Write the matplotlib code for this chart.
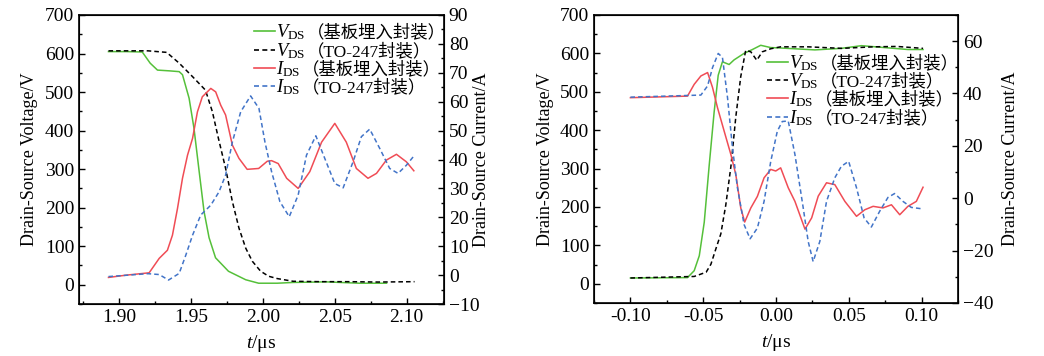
import matplotlib
matplotlib.use("Agg")
import matplotlib.pyplot as plt
from matplotlib.ticker import MultipleLocator
from matplotlib.offsetbox import AnchoredOffsetbox, HPacker, VPacker, TextArea, DrawingArea
from matplotlib.lines import Line2D

plt.rcParams['font.family'] = ['Liberation Serif', 'Noto Sans CJK SC']
plt.rcParams['mathtext.fontset'] = 'custom'
plt.rcParams['mathtext.rm'] = 'Liberation Serif'
plt.rcParams['mathtext.it'] = 'Liberation Serif:italic'
plt.rcParams['font.size'] = 14

# ---- left panel (turn-off) ----
t_vsub_l = [1.8925, 1.905, 1.916, 1.9215, 1.9266, 1.935, 1.9417, 1.944, 1.9486, 1.952,
            1.9556, 1.959, 1.9625, 1.967, 1.976, 1.988, 1.997, 2.010, 2.021, 2.044, 2.067, 2.086]
v_sub_l = [605, 605, 604, 575, 557, 555, 553, 545, 484, 406,
           294, 190, 122, 70, 35, 13, 4, 4, 6, 7.5, 4, 4]

t_vto_l = [1.8925, 1.92, 1.933, 1.9417, 1.951, 1.960, 1.9648, 1.969, 1.974, 1.9787, 1.9833,
           1.988, 1.9926, 1.9984, 2.004, 2.010, 2.021, 2.04, 2.06, 2.08, 2.1055]
v_to_l = [607, 607, 603, 575, 540, 505, 449, 380, 302, 216, 147,
          95, 61, 35, 22, 16, 9, 8, 8, 7, 8]

t_isub_l = [1.8925, 1.905, 1.9208, 1.9278, 1.9335, 1.937, 1.9405, 1.944, 1.9475, 1.951, 1.9544,
            1.9578, 1.9637, 1.9671, 1.9706, 1.974, 1.9787, 1.9833, 1.989, 1.997, 2.003, 2.006,
            2.0106, 2.0165, 2.0245, 2.0326, 2.0408, 2.05, 2.058, 2.065, 2.0731, 2.079, 2.0859,
            2.0929, 2.0998, 2.105]
i_sub_l = [-0.8, 0, 0.8, 5.8, 8.6, 13.8, 23, 33.5, 41.5, 47.3, 56.5,
           61.7, 64.6, 63.4, 58.8, 55.4, 45, 40.4, 36.6, 36.9, 39.4, 39.6,
           38.6, 33.5, 30, 35.8, 46, 52.5, 46, 36.9, 33.5, 35.2, 39.8,
           41.8, 39.2, 36.1]

t_ito_l = [1.8925, 1.92, 1.9278, 1.9343, 1.9417, 1.9463, 1.951, 1.9567, 1.9637, 1.9694, 1.974,
           1.9787, 1.9845, 1.9914, 1.9972, 2.0014, 2.006, 2.0118, 2.0183, 2.0245, 2.0303, 2.0368,
           2.043, 2.05, 2.0558, 2.0627, 2.0685, 2.0743, 2.0813, 2.0882, 2.094, 2.0998, 2.105]
i_to_l = [-0.5, 0.5, 0.2, -1.7, 0.6, 6.9, 13.8, 20.8, 24.2, 28.8, 34.6,
          46, 56.5, 62, 57.7, 46, 35.8, 25.4, 20.2, 27.7, 41.5, 48.2,
          40.4, 31.7, 30.2, 39.2, 47.9, 50.5, 43.8, 36.9, 35.2, 38, 41.2]

# ---- right panel (turn-on) ----
t_vsub_r = [-0.1, -0.0608, -0.0562, -0.0527, -0.0493, -0.0459, -0.0425, -0.0397, -0.0368, -0.0322,
            -0.0288, -0.0219, -0.0162, -0.0105, -0.0036, 0.003, 0.0267, 0.0449, 0.0587, 0.0747,
            0.0906, 0.101]
v_sub_r = [15, 16, 34, 73, 160, 308, 447, 543, 578, 571,
           583, 600, 610, 621, 615, 614, 609, 613, 620, 615,
           610, 610]

t_vto_r = [-0.1, -0.0562, -0.048, -0.0447, -0.0413, -0.0379, -0.0345, -0.031, -0.0276, -0.0242,
           -0.0208, -0.0173, -0.0132, -0.0094, -0.0036, 0.0032, 0.022, 0.045, 0.067, 0.083, 0.101]
v_to_r = [15, 19, 30, 51, 91, 130, 205, 305, 435, 540,
          608, 604, 582, 604, 612, 617, 617, 613, 617, 618, 613]

t_isub_r = [-0.1, -0.0608, -0.0562, -0.0516, -0.047, -0.0436, -0.0402, -0.0356, -0.031, -0.0276,
            -0.0242, -0.0215, -0.0173, -0.0128, -0.0082, -0.0036, -0.0002, 0.0032, 0.0084, 0.013,
            0.0199, 0.0245, 0.029, 0.0347, 0.0404, 0.0473, 0.0553, 0.061, 0.0667, 0.0735,
            0.0793, 0.085, 0.0906, 0.0964, 0.101]
i_sub_r = [38.4, 39, 43.5, 46.7, 48, 42.3, 34.6, 25.6, 16.7, 9,
           -3.7, -9.1, -3.7, 0.7, 7.8, 11, 10.4, 11.6, 4, -1.2,
           -11.8, -7.5, 0.8, 5.9, 5.2, -1.2, -6.9, -4.4, -3.1, -3.7,
           -2.5, -6.3, -3.1, -1.2, 4.2]

t_ito_r = [-0.1, -0.0516, -0.047, -0.0436, -0.0397, -0.0368, -0.0333, -0.0299, -0.0265, -0.0219,
           -0.0178, -0.0128, -0.0082, -0.0036, 0.0009, 0.0043, 0.0084, 0.013, 0.0187, 0.0221,
           0.0255, 0.0301, 0.0347, 0.0404, 0.0449, 0.0499, 0.0553, 0.0605, 0.0655, 0.0712,
           0.0769, 0.0815, 0.0872, 0.0929, 0.0997]
i_to_r = [38.6, 39.4, 42.9, 49.9, 55.3, 53.8, 38.4, 19.3, 4, -10.1,
          -15.5, -11.4, -1.2, 14.1, 25.6, 29.3, 29.5, 16.7, -3.7, -16.5,
          -24.2, -16.5, -1.2, 7.8, 12.2, 14.1, 4, -7.5, -11, -5,
          0.3, 1.8, -1.2, -3.5, -4]

symbols = [r'$V_{\rm DS}$', r'$V_{\rm DS}$', r'$I_{\rm DS}$', r'$I_{\rm DS}$']
packages = ['（基板埋入封装）', '（TO-247封装）', '（基板埋入封装）', '（TO-247封装）']

GREEN = '#55c03a'
RED = '#f04c55'
BLUE = '#4274c8'
DASH = (0, (3, 2))
styles = [(GREEN, '-'), ('black', DASH), (RED, '-'), (BLUE, DASH)]


def add_legend(ax, anchor):
    rows = []
    for (color, ls), sym, pkg in zip(styles, symbols, packages):
        da = DrawingArea(15, 10, 0, 0)
        da.add_artist(Line2D([0, 15], [4.5, 4.5], color=color, ls=ls, lw=1.2))
        ta1 = TextArea(sym, textprops=dict(fontsize=13.5))
        ta2 = TextArea(pkg, textprops=dict(fontsize=12.5,
                                           family=['Liberation Serif', 'Noto Sans CJK SC']))
        rows.append(HPacker(children=[da, ta1, ta2], align='baseline', pad=0, sep=1))
    box = VPacker(children=rows, align='left', pad=0, sep=-1)
    anch = AnchoredOffsetbox(loc='upper left', child=box, pad=0, borderpad=0, frameon=False,
                             bbox_to_anchor=anchor, bbox_transform=ax.transAxes)
    ax.add_artist(anch)


def style(ax, axr, pads):
    ax.tick_params(which='both', direction='in', top=False, right=False, width=1)
    ax.tick_params(which='major', length=4)
    ax.tick_params(which='minor', length=2)
    axr.tick_params(which='both', direction='in', width=1)
    axr.tick_params(which='major', length=4)
    axr.tick_params(which='minor', length=2)
    for s in ax.spines.values():
        s.set_linewidth(1.2)
    ax.set_ylim(-50, 700)
    ax.yaxis.set_major_locator(MultipleLocator(100))
    ax.yaxis.set_minor_locator(MultipleLocator(50))
    ax.set_xlabel(r'$t$/μs', labelpad=5)
    ax.set_ylabel('Drain-Source Voltage/V', fontsize=13, labelpad=pads[0])
    axr.set_ylabel('Drain-Source Current/A', fontsize=13, labelpad=pads[1])


def panel(rect, tv1, v1, tv2, v2, ti1, i1, ti2, i2, leg_anchor, pads):
    ax = fig.add_axes(rect)
    axr = ax.twinx()
    ax.plot(tv1, v1, color=styles[0][0], ls=styles[0][1], lw=1.1)
    ax.plot(tv2, v2, color=styles[1][0], ls=styles[1][1], lw=1.1)
    axr.plot(ti1, i1, color=styles[2][0], ls=styles[2][1], lw=1.1)
    axr.plot(ti2, i2, color=styles[3][0], ls=styles[3][1], lw=1.1)
    style(ax, axr, pads)
    add_legend(axr, leg_anchor)
    return ax, axr


fig = plt.figure(figsize=(10.44, 3.56), dpi=100)

axl, axlr = panel([0.0757, 0.146, 0.3496, 0.8119], t_vsub_l, v_sub_l, t_vto_l, v_to_l,
                  t_isub_l, i_sub_l, t_ito_l, i_to_l, (0.479, 0.974), (5, -5))
axl.set_xlim(1.872, 2.126)
axl.xaxis.set_major_locator(MultipleLocator(0.05))
axl.xaxis.set_minor_locator(MultipleLocator(0.025))
axl.xaxis.set_major_formatter(plt.FormatStrFormatter('%.2f'))
axlr.set_ylim(-10, 90)
axlr.yaxis.set_major_locator(MultipleLocator(10))
axlr.yaxis.set_minor_locator(MultipleLocator(5))

axr, axrr = panel([0.569, 0.149, 0.3486, 0.809], t_vsub_r, v_sub_r, t_vto_r, v_to_r,
                  t_isub_r, i_sub_r, t_ito_r, i_to_r, (0.475, 0.868), (4, 6))
axr.set_xlim(-0.125, 0.125)
axr.xaxis.set_major_locator(MultipleLocator(0.05))
axr.xaxis.set_minor_locator(MultipleLocator(0.025))
axr.xaxis.set_major_formatter(plt.FormatStrFormatter('%.2f'))
axrr.set_ylim(-40, 70)
axrr.yaxis.set_major_locator(MultipleLocator(20))
axrr.yaxis.set_minor_locator(MultipleLocator(10))

fig.savefig('out.png', dpi=100)
